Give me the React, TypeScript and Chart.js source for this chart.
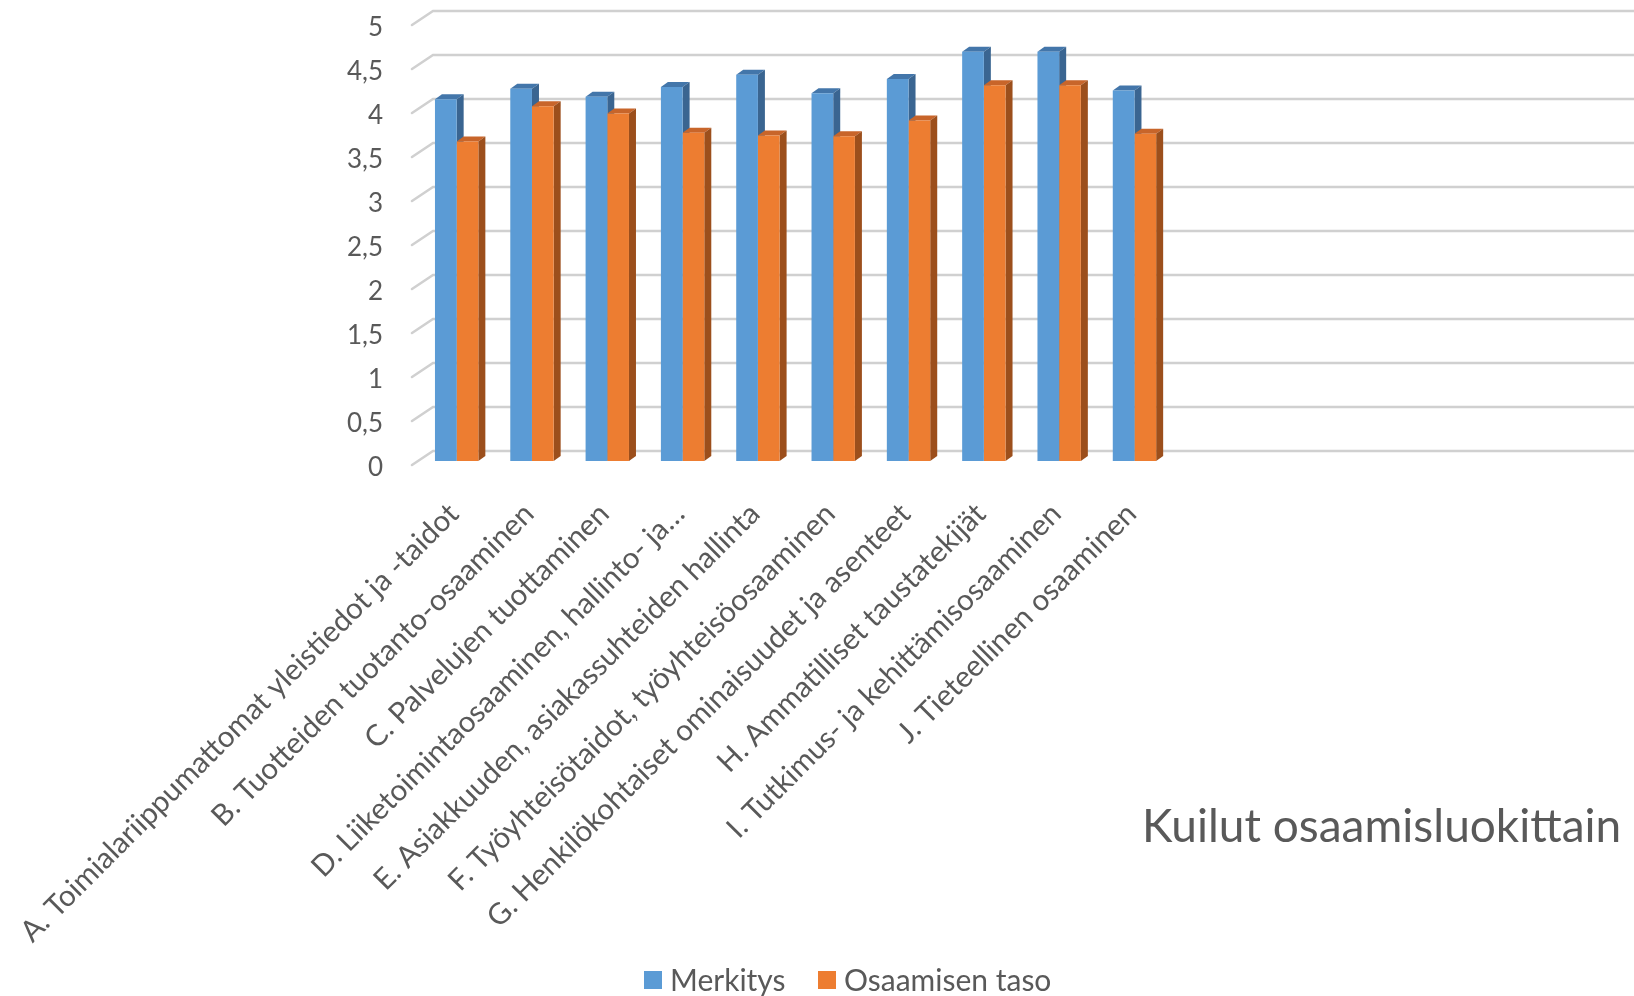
import React, { useEffect, useRef } from 'react';
import { Chart, registerables } from 'chart.js';

Chart.register(...registerables);

const categories = [
  'A. Toimialariippumattomat yleistiedot ja -taidot',
  'B. Tuotteiden tuotanto-osaaminen',
  'C. Palvelujen tuottaminen',
  'D. Liiketoimintaosaaminen, hallinto- ja…',
  'E. Asiakkuuden, asiakassuhteiden hallinta',
  'F. Työyhteisötaidot, työyhteisöosaaminen',
  'G. Henkilökohtaiset ominaisuudet ja asenteet',
  'H. Ammatilliset taustatekijät',
  'I. Tutkimus- ja kehittämisosaaminen',
  'J. Tieteellinen osaaminen',
  '', '', '', '', '', '',
];
const merkitys = [4.11, 4.23, 4.14, 4.25, 4.39, 4.18, 4.34, 4.65, 4.65, 4.21];
const osaamisenTaso = [3.63, 4.03, 3.95, 3.73, 3.7, 3.69, 3.87, 4.27, 4.27, 3.72];
const seriesNames = ['Merkitys', 'Osaamisen taso'];
const yTickValues = [0, 0.5, 1, 1.5, 2, 2.5, 3, 3.5, 4, 4.5, 5];
const chartTitle = 'Kuilut osaamisluokittain';

const FRONT = ['#5B9BD5', '#ED7D31'];
const TOP = ['#4376aa', '#c8652a'];
const SIDE = ['#3a6591', '#9c4f1c'];
const TEXT = '#595959';
const GRID = '#d0d0d0';
const FONT = 'Lato, "Open Sans", sans-serif';

const fmt = (v: number) => String(v).replace('.', ',');

const depthPlugin = {
  id: 'depth3d',
  beforeDatasetsDraw(chart: any) {
    const ctx = chart.ctx as CanvasRenderingContext2D;
    const area = chart.chartArea;
    const ys = chart.scales.y;
    ctx.save();
    ctx.strokeStyle = GRID;
    ctx.lineWidth = 2.5;
    ctx.lineCap = 'round';
    for (const v of yTickValues) {
      const y = ys.getPixelForValue(v);
      ctx.beginPath();
      ctx.moveTo(area.left - 7, y + 4);
      ctx.lineTo(area.left + 14, y - 10);
      ctx.lineTo(chart.width + 5, y - 10);
      ctx.stroke();
    }
    ctx.restore();
    const dx = 7;
    const dy = -5;
    ctx.save();
    chart.data.datasets.forEach((_: any, di: number) => {
      const meta = chart.getDatasetMeta(di);
      meta.data.forEach((el: any, i: number) => {
        const val = chart.data.datasets[di].data[i];
        if (val == null) return;
        const l = el.x - el.width / 2;
        const r = el.x + el.width / 2;
        const t = el.y;
        const b = el.base;
        ctx.fillStyle = TOP[di];
        ctx.beginPath();
        ctx.moveTo(l, t);
        ctx.lineTo(l + dx, t + dy);
        ctx.lineTo(r + dx, t + dy);
        ctx.lineTo(r, t);
        ctx.closePath();
        ctx.fill();
        ctx.fillStyle = SIDE[di];
        ctx.beginPath();
        ctx.moveTo(r, t);
        ctx.lineTo(r + dx, t + dy);
        ctx.lineTo(r + dx, b + dy);
        ctx.lineTo(r, b);
        ctx.closePath();
        ctx.fill();
      });
    });
    ctx.restore();
  },
  afterDraw(chart: any) {
    const ctx = chart.ctx as CanvasRenderingContext2D;
    const area = chart.chartArea;
    const ys = chart.scales.y;
    const xs = chart.scales.x;
    ctx.save();
    ctx.fillStyle = TEXT;
    ctx.font = `26px ${FONT}`;
    ctx.textAlign = 'right';
    ctx.textBaseline = 'middle';
    for (const v of yTickValues) {
      ctx.fillText(fmt(v), 383, ys.getPixelForValue(v) + 7);
    }
    ctx.font = `29.5px ${FONT}`;
    categories.forEach((c, i) => {
      if (!c) return;
      const x = xs.getPixelForValue(i);
      ctx.save();
      ctx.translate(x - 3, area.bottom + 48);
      ctx.rotate(-Math.PI / 4);
      ctx.textAlign = 'right';
      ctx.textBaseline = 'middle';
      ctx.fillText(c, 0, 0);
      ctx.restore();
    });
    ctx.font = `46px ${FONT}`;
    ctx.textAlign = 'left';
    ctx.textBaseline = 'alphabetic';
    ctx.fillText(chartTitle, 1142, 842);
    ctx.font = `30px ${FONT}`;
    ctx.textBaseline = 'alphabetic';
    const items = [
      { x: 644, tx: 670 },
      { x: 818, tx: 844 },
    ];
    items.forEach((it, i) => {
      ctx.fillStyle = FRONT[i];
      ctx.fillRect(it.x, 971, 18, 18);
      ctx.fillStyle = TEXT;
      ctx.fillText(seriesNames[i], it.tx, 991);
    });
    ctx.restore();
  },
};

export default function App() {
  const ref = useRef<HTMLCanvasElement | null>(null);
  useEffect(() => {
    if (!ref.current) return;
    const chart = new Chart(ref.current, {
      type: 'bar',
      data: {
        labels: categories,
        datasets: [
          {
            label: seriesNames[0],
            data: merkitys,
            backgroundColor: FRONT[0],
            borderWidth: 0,
            categoryPercentage: 0.576,
            barPercentage: 1,
          },
          {
            label: seriesNames[1],
            data: osaamisenTaso,
            backgroundColor: FRONT[1],
            borderWidth: 0,
            categoryPercentage: 0.576,
            barPercentage: 1,
          },
        ],
      },
      options: {
        animation: false,
        responsive: true,
        maintainAspectRatio: false,
        layout: { padding: { left: 419, right: 10, top: 21, bottom: 535 } },
        plugins: {
          legend: { display: false },
          title: { display: false },
          tooltip: { enabled: false },
        },
        scales: {
          x: { type: 'category', display: false, offset: true },
          y: { display: false, min: 0, max: 5, ticks: { stepSize: 0.5 } },
        },
      },
      plugins: [depthPlugin],
    });
    return () => chart.destroy();
  }, []);
  return (
    <div style={{ position: 'fixed', left: 0, top: 0, width: 1634, height: 996, background: '#fff' }}>
      <canvas ref={ref} />
    </div>
  );
}
